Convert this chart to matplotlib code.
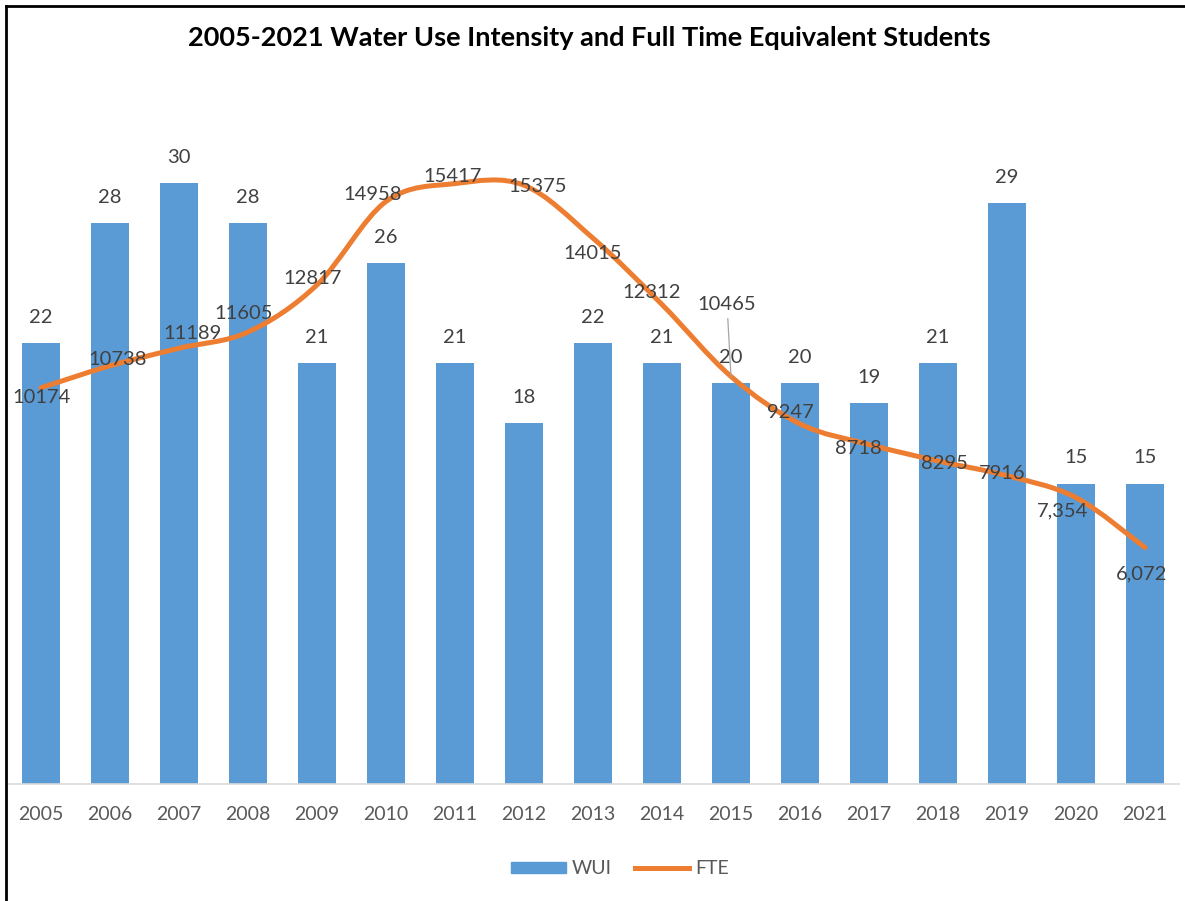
import numpy as np
import matplotlib
matplotlib.use("Agg")
import matplotlib.pyplot as plt
from matplotlib.path import Path
from matplotlib.patches import PathPatch, Patch
from matplotlib.lines import Line2D

plt.rcParams['font.family'] = ['Lato', 'DejaVu Sans']

years = ["2005", "2006", "2007", "2008", "2009", "2010", "2011", "2012", "2013",
         "2014", "2015", "2016", "2017", "2018", "2019", "2020", "2021"]
wui = [22, 28, 30, 28, 21, 26, 21, 18, 22, 21, 20, 20, 19, 21, 29, 15, 15]
fte = [10174, 10738, 11189, 11605, 12817, 14958, 15417, 15375, 14015,
       12312, 10465, 9247, 8718, 8295, 7916, 7354, 6072]
fte_labels = ["10174", "10738", "11189", "11605", "12817", "14958", "15417", "15375",
              "14015", "12312", "10465", "9247", "8718", "8295", "7916", "7,354", "6,072"]

# label offsets (pixels) of the FTE labels relative to their points
fte_offsets = [(1, -10), (8, 6), (13, 15), (-4, 19), (-4, 6), (-13, 7), (-2, 7),
               (14, -1), (0, -15), (-10, 12), (-4, 72), (-10, 11), (-11, -4),
               (6, -3), (-5, 2), (-13, -13), (-3, -26)]

blue = "#5B9BD5"
orange = "#ED7D31"
gray = "#404040"

fig = plt.figure(figsize=(11.85, 9.01), dpi=100)
ax = fig.add_axes([6.5 / 1185, 117 / 901, 1173 / 1185, 701 / 901])
ax2 = ax.twinx()

x = np.arange(len(years))
ax.bar(x, wui, width=0.55, color=blue, zorder=2)
ax.set_xlim(-0.5, len(years) - 0.5)
ax.set_ylim(0, 35)
ax2.set_ylim(0, 18000)

for xi, v in zip(x, wui):
    ax.annotate(str(v), (xi, v), xytext=(0, 26), textcoords="offset pixels",
                ha="center", va="center", fontsize=14.5, color=gray)

# smoothed FTE line (Bezier through the data points, like Excel's smoothing)
pts = np.column_stack([x, fte]).astype(float)
verts = [pts[0]]
codes = [Path.MOVETO]
n = len(pts)
for i in range(n - 1):
    p0 = pts[max(i - 1, 0)]
    p1 = pts[i]
    p2 = pts[i + 1]
    p3 = pts[min(i + 2, n - 1)]
    c1 = p1 + (p2 - p0) / 6
    c2 = p2 - (p3 - p1) / 6
    verts += [c1, c2, p2]
    codes += [Path.CURVE4] * 3
ax2.add_patch(PathPatch(Path(verts, codes), facecolor="none", edgecolor=orange,
                        lw=3.6, capstyle="round", joinstyle="round", zorder=3))

for xi, v, lab, off in zip(x, fte, fte_labels, fte_offsets):
    props = None
    if off[1] > 40:
        props = dict(arrowstyle="-", color="#A6A6A6", lw=0.9, shrinkA=2, shrinkB=0)
    ax2.annotate(lab, (xi, v), xytext=off, textcoords="offset pixels",
                 ha="center", va="center", fontsize=14.5, color=gray,
                 arrowprops=props, zorder=4)

ax.set_xticks(x)
ax.set_xticklabels(years, fontsize=14, color="#595959")
ax.tick_params(axis="x", length=0, pad=16)
ax.set_yticks([])
ax2.set_yticks([])
for a in (ax, ax2):
    for s in ("top", "right", "left"):
        a.spines[s].set_visible(False)
ax.spines["bottom"].set_color("#D9D9D9")
ax.spines["bottom"].set_linewidth(1.2)
ax2.spines["bottom"].set_visible(False)

fig.text(589 / 1185, 1 - 38 / 901,
         "2005-2021 Water Use Intensity and Full Time Equivalent Students",
         ha="center", va="center", fontsize=19.5, fontweight="bold", color="black")

handles = [Patch(facecolor=blue, edgecolor=blue, label="WUI"),
           Line2D([0], [0], color=orange, lw=3.6, label="FTE")]
fig.legend(handles=handles, loc="center", bbox_to_anchor=(620 / 1185, 1 - 869 / 901),
           ncol=2, frameon=False, fontsize=14, handlelength=2.8, handleheight=0.5,
           handletextpad=0.3, columnspacing=1.2, labelcolor="#595959")

# figure border (top and left edges visible in the reference)
fig.add_artist(Line2D([6 / 1185, 1], [1 - 6 / 901, 1 - 6 / 901], color="black",
                      lw=2, transform=fig.transFigure))
fig.add_artist(Line2D([6 / 1185, 6 / 1185], [0, 1 - 6 / 901], color="black",
                      lw=2, transform=fig.transFigure))

fig.savefig("out.png", dpi=100, facecolor="white")
